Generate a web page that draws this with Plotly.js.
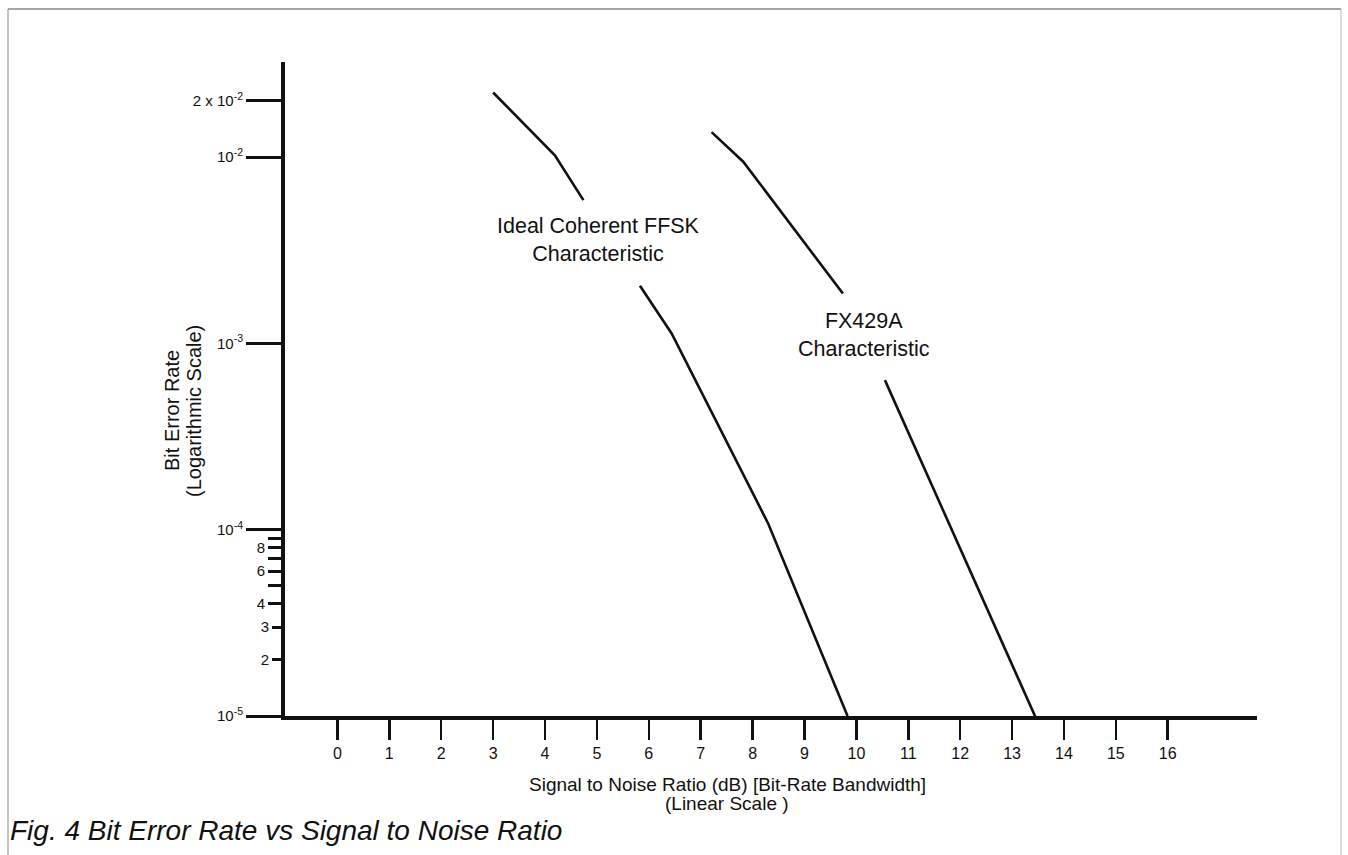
<!DOCTYPE html>
<html>
<head>
<meta charset="utf-8">
<script src="https://cdn.plot.ly/plotly-3.0.1.min.js"></script>
<style>
  html, body { margin: 0; padding: 0; background: #ffffff; }
  #chart { width: 1348px; height: 855px; }
</style>
</head>
<body>
<div id="chart"></div>
<script>
// ---- Data ----
const ffskSNR = [3.0, 4.19, 4.74, null, 5.83, 6.44, 8.30, 9.83];
const ffskBER = [2.22e-2, 1.02e-2, 5.87e-3, null, 2.04e-3, 1.13e-3, 1.08e-4, 1.0e-5];

const fxSNR = [7.21, 7.82, 9.74, null, 10.55, 13.50];
const fxBER = [1.36e-2, 9.44e-3, 1.85e-3, null, 6.35e-4, 9.2e-6];

const xTickVals = [0,1,2,3,4,5,6,7,8,9,10,11,12,13,14,15,16];
const xTickText = ["0","1","2","3","4","5","6","7","8","9","10","11","12","13","14","15","16"];

const yMajorVals = [1e-5, 1e-4, 1e-3, 1e-2, 2e-2];
const yMajorText = ["10<sup>-5</sup>", "10<sup>-4</sup>", "10<sup>-3</sup>", "10<sup>-2</sup>", "2 x 10<sup>-2</sup>"];

const yMinorLongVals = [4e-5, 6e-5, 8e-5];
const yMinorLongText = ["4", "6", "8"];
const yMinorBareVals = [5e-5, 7e-5, 9e-5];
const yMinorShortVals = [2e-5, 3e-5];
const yMinorShortText = ["2", "3"];

// ---- Chart ----
const FONT = "Liberation Sans, Arial, Helvetica, sans-serif";
const INK = "#111111";
const yRange = [-5, -1.49];

const traces = [
  {
    x: ffskSNR, y: ffskBER, type: "scatter", mode: "lines",
    name: "Ideal Coherent FFSK Characteristic",
    line: { color: INK, width: 2.6 }, connectgaps: false, hoverinfo: "x+y"
  },
  {
    x: fxSNR, y: fxBER, type: "scatter", mode: "lines",
    name: "FX429A Characteristic",
    line: { color: INK, width: 2.6 }, connectgaps: false, hoverinfo: "x+y"
  },
  { x: [null], y: [null], yaxis: "y2", type: "scatter", mode: "lines", showlegend: false, hoverinfo: "skip" },
  { x: [null], y: [null], yaxis: "y3", type: "scatter", mode: "lines", showlegend: false, hoverinfo: "skip" },
  { x: [null], y: [null], yaxis: "y4", type: "scatter", mode: "lines", showlegend: false, hoverinfo: "skip" }
];

function px2paperX(px) { return (px - 285) / 972; }
function px2paperY(py) { return (716 - py) / 654; }

function minorAxis(vals, text, len, labels) {
  return {
    type: "log", range: yRange, overlaying: "y", side: "left", anchor: "x",
    tickmode: "array", tickvals: vals, ticktext: text || [],
    showticklabels: labels,
    ticks: "outside", ticklen: len, tickwidth: 3, tickcolor: INK,
    showline: false, showgrid: false, zeroline: false,
    tickfont: { family: FONT, size: 15, color: INK }
  };
}

const layout = {
  width: 1348, height: 855,
  margin: { l: 285, r: 91, t: 62, b: 139 },
  paper_bgcolor: "#ffffff", plot_bgcolor: "#ffffff",
  showlegend: false,
  font: { family: FONT, color: INK },
  xaxis: {
    range: [-1.01, 17.72],
    tickmode: "array", tickvals: xTickVals, ticktext: xTickText,
    ticks: "outside", ticklen: 20, tickwidth: 2.5, tickcolor: INK,
    showline: true, linewidth: 4, linecolor: INK,
    showgrid: false, zeroline: false,
    tickfont: { family: FONT, size: 16, color: INK }
  },
  yaxis: {
    type: "log", range: yRange,
    tickmode: "array", tickvals: yMajorVals, ticktext: yMajorText,
    ticks: "outside", ticklen: 35, tickwidth: 3, tickcolor: INK,
    showline: true, linewidth: 4, linecolor: INK,
    showgrid: false, zeroline: false,
    tickfont: { family: FONT, size: 15, color: INK }
  },
  yaxis2: minorAxis(yMinorLongVals, yMinorLongText, 16, true),
  yaxis3: minorAxis(yMinorBareVals, null, 16, false),
  yaxis4: minorAxis(yMinorShortVals, yMinorShortText, 12, true),
  annotations: [
    { xref: "x", yref: "y", x: 5.04, y: Math.log10(3.58e-3),
      text: "Ideal Coherent FFSK<br>Characteristic", showarrow: false,
      xanchor: "center", yanchor: "middle", font: { family: FONT, size: 21.5, color: INK } },
    { xref: "x", yref: "y", x: 10.14, y: Math.log10(1.11e-3),
      text: "FX429A<br>Characteristic", showarrow: false,
      xanchor: "center", yanchor: "middle", font: { family: FONT, size: 21.5, color: INK } },
    { xref: "paper", yref: "paper", x: px2paperX(172), y: px2paperY(411),
      text: "Bit Error Rate", textangle: -90, showarrow: false,
      xanchor: "center", yanchor: "middle", font: { family: FONT, size: 20, color: INK } },
    { xref: "paper", yref: "paper", x: px2paperX(194), y: px2paperY(411),
      text: "(Logarithmic Scale)", textangle: -90, showarrow: false,
      xanchor: "center", yanchor: "middle", font: { family: FONT, size: 20, color: INK } },
    { xref: "paper", yref: "paper", x: px2paperX(727), y: px2paperY(784),
      text: "Signal to Noise Ratio (dB) [Bit-Rate Bandwidth]", showarrow: false,
      xanchor: "center", yanchor: "middle", font: { family: FONT, size: 19, color: INK } },
    { xref: "paper", yref: "paper", x: px2paperX(727), y: px2paperY(803),
      text: "(Linear Scale )", showarrow: false,
      xanchor: "center", yanchor: "middle", font: { family: FONT, size: 19, color: INK } },
    { xref: "paper", yref: "paper", x: px2paperX(8), y: px2paperY(830),
      text: "<i>Fig. 4 Bit Error Rate vs Signal to Noise Ratio</i>", showarrow: false,
      xanchor: "left", yanchor: "middle", font: { family: FONT, size: 28, color: INK } }
  ],
  shapes: [
    { type: "line", xref: "paper", yref: "paper",
      x0: px2paperX(8), x1: px2paperX(1341), y0: px2paperY(9), y1: px2paperY(9),
      line: { color: "#888888", width: 1.5 } },
    { type: "line", xref: "paper", yref: "paper",
      x0: px2paperX(8), x1: px2paperX(8), y0: px2paperY(9), y1: px2paperY(860),
      line: { color: "#888888", width: 1 } },
    { type: "line", xref: "paper", yref: "paper",
      x0: px2paperX(1341), x1: px2paperX(1341), y0: px2paperY(9), y1: px2paperY(860),
      line: { color: "#bbbbbb", width: 1 } }
  ]
};

Plotly.newPlot("chart", traces, layout, { displayModeBar: false, staticPlot: true });
</script>
</body>
</html>
